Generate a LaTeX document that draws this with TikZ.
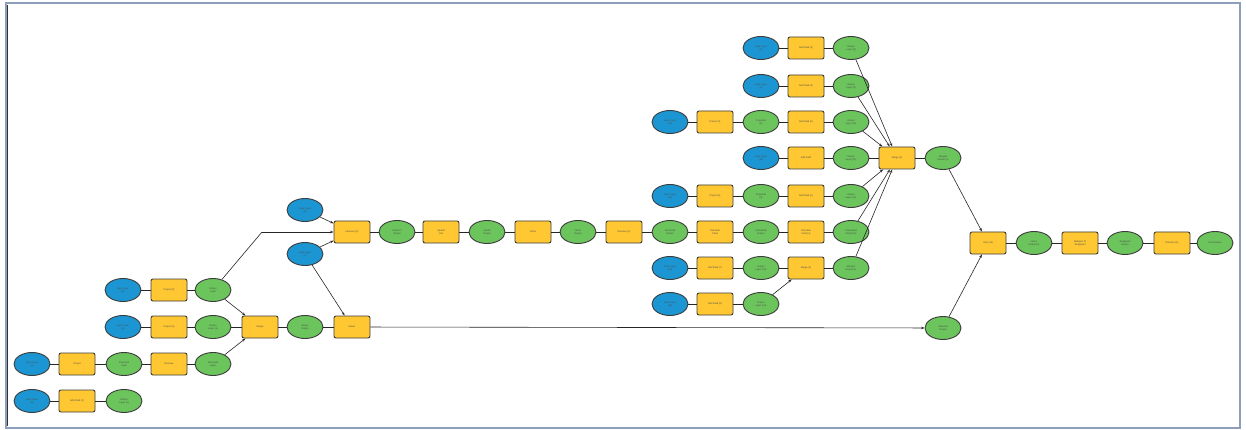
\documentclass[tikz,border=0pt]{standalone}
\usepackage{fontspec}
\setmainfont{Liberation Sans}
\usetikzlibrary{arrows.meta,shapes.geometric}
\definecolor{mbblue}{RGB}{28,150,210}
\definecolor{mbgreen}{RGB}{108,196,92}
\definecolor{mbyellow}{RGB}{255,200,50}
\definecolor{frameblue}{RGB}{140,158,186}
\definecolor{edgegray}{RGB}{60,60,60}
\tikzset{
  x=1pt, y=-1pt,
  base/.style={draw=edgegray, line width=0.9pt, minimum width=36pt, minimum height=23pt, inner sep=0pt,
    align=center, font=\fontsize{2.4pt}{2.9pt}\selectfont, text=black!70},
  inp/.style={base, ellipse, fill=mbblue},
  outp/.style={base, ellipse, fill=mbgreen},
  tool/.style={base, rectangle, rounded corners=2pt, fill=mbyellow, minimum height=22pt},
  link/.style={draw=black!85, line width=0.6pt},
  flow/.style={link, -{Stealth[length=3.5pt,width=2.5pt]}},
}
\begin{document}
\begin{tikzpicture}
\useasboundingbox (0,0) rectangle (1246,430);
\fill[white] (0,0) rectangle (1246,430);
\draw[frameblue, line width=2pt] (6,3) rectangle (1240,428);
\draw[black!80, line width=0.8pt] (7.5,5) -- (7.5,426);

% ---- left block ----
\node[inp]  (bA) at (123,290) {Input Layer\\(2)};
\node[tool] (tA) at (169,290) {Project (2)};
\node[outp] (gA) at (213,290) {Output\\Layer};
\node[inp]  (bB) at (123,327) {Input Layer\\(3)};
\node[tool] (tB) at (169,327) {Project (3)};
\node[outp] (gB) at (213,327) {Output\\Layer (3)};
\node[tool] (tM1) at (260,327) {Merge};
\node[outp] (gM1) at (305,327) {Merge\\Output};
\node[tool] (tS) at (352,327) {Select};
\node[inp]  (bC) at (32,364) {Input Layer\\(4)};
\node[tool] (tC1) at (77,364) {Project};
\node[outp] (gC1) at (124,364) {Projected\\Layer};
\node[tool] (tC2) at (169,364) {Dissolve};
\node[outp] (gC2) at (213,364) {Dissolved\\Layer};
\node[inp]  (bD) at (32,401) {Input Layer\\(5)};
\node[tool] (tD) at (77,401) {Add Field (2)};
\node[outp] (gD) at (124,401) {Output\\Layer (5)};

\draw[link] (bA) -- (tA); \draw[link] (tA) -- (gA);
\draw[link] (bB) -- (tB); \draw[link] (tB) -- (gB); \draw[link] (gB) -- (tM1);
\draw[link] (tM1) -- (gM1); \draw[link] (gM1) -- (tS);
\draw[link] (bC) -- (tC1); \draw[link] (tC1) -- (gC1); \draw[link] (gC1) -- (tC2); \draw[link] (tC2) -- (gC2);
\draw[link] (bD) -- (tD); \draw[link] (tD) -- (gD);
\draw[flow] (gA) -- (tM1);
\draw[flow] (gC2) -- (tM1);

% ---- middle chain ----
\node[inp]  (b1) at (305,210) {Input Layer\\(6)};
\node[inp]  (b2) at (305,254) {Input Layer\\(7)};
\node[tool] (t1) at (352,232) {Intersect (2)};
\node[outp] (g1) at (397,232) {Intersect\\Output};
\node[tool] (t2) at (441,232) {Spatial\\Join};
\node[outp] (g2) at (487,232) {Joined\\Output};
\node[tool] (t3) at (533,232) {Union};
\node[outp] (g3) at (578,232) {Union\\Output};
\node[tool] (t4) at (624,232) {Dissolve (2)};
\node[outp] (g4) at (670,232) {Dissolved\\Output};
\coordinate (bend) at (262,232);

\draw[link] (gA) -- (bend);
\draw[flow] (bend) -- (t1);
\draw[flow] (b1) -- (t1);
\draw[flow] (b2) -- (t1);
\draw[flow] (b2) -- (tS);
\draw[link] (t1) -- (g1); \draw[link] (g1) -- (t2); \draw[link] (t2) -- (g2);
\draw[link] (g2) -- (t3); \draw[link] (t3) -- (g3); \draw[link] (g3) -- (t4); \draw[link] (t4) -- (g4);

% ---- right cluster ----
\node[inp]  (r1b) at (761,48) {Input Layer\\(8)};
\node[tool] (r1t) at (806,48) {Add Field (3)};
\node[outp] (r1g) at (851,48) {Output\\Layer (8)};
\node[inp]  (r2b) at (761,86) {Input Layer\\(9)};
\node[tool] (r2t) at (806,86) {Add Field (4)};
\node[outp] (r2g) at (851,86) {Output\\Layer (9)};
\node[inp]  (r3b) at (670,122) {Input Layer\\(10)};
\node[tool] (r3t1) at (715,122) {Project (4)};
\node[outp] (r3g1) at (761,122) {Projected\\(2)};
\node[tool] (r3t2) at (806,122) {Add Field (5)};
\node[outp] (r3g2) at (851,122) {Output\\Layer (10)};
\node[inp]  (r4b) at (761,158) {Input Layer\\(11)};
\node[tool] (r4t) at (806,158) {Add Field};
\node[outp] (r4g) at (851,158) {Output\\Layer (11)};
\node[inp]  (r5b) at (670,196) {Input Layer\\(12)};
\node[tool] (r5t1) at (715,196) {Project (5)};
\node[outp] (r5g1) at (761,196) {Projected\\(3)};
\node[tool] (r5t2) at (806,196) {Add Field (6)};
\node[outp] (r5g2) at (851,196) {Output\\Layer (12)};
\node[tool] (r6t1) at (715,232) {Calculate\\Field};
\node[outp] (r6g1) at (761,232) {Calculated\\Output};
\node[tool] (r6t2) at (806,232) {Calculate\\Field (2)};
\node[outp] (r6g2) at (851,232) {Calculated\\Output (2)};
\node[inp]  (r7b) at (670,268) {Input Layer\\(13)};
\node[tool] (r7t1) at (715,268) {Add Field (7)};
\node[outp] (r7g1) at (761,268) {Output\\Layer (13)};
\node[tool] (r7t2) at (806,268) {Merge (2)};
\node[outp] (r7g2) at (851,268) {Merged\\Output (2)};
\node[inp]  (r8b) at (670,304) {Input Layer\\(14)};
\node[tool] (r8t) at (715,304) {Add Field (8)};
\node[outp] (r8g) at (761,304) {Output\\Layer (14)};

\draw[link] (r1b) -- (r1t); \draw[link] (r1t) -- (r1g);
\draw[link] (r2b) -- (r2t); \draw[link] (r2t) -- (r2g);
\draw[link] (r3b) -- (r3t1); \draw[link] (r3t1) -- (r3g1); \draw[link] (r3g1) -- (r3t2); \draw[link] (r3t2) -- (r3g2);
\draw[link] (r4b) -- (r4t); \draw[link] (r4t) -- (r4g);
\draw[link] (r5b) -- (r5t1); \draw[link] (r5t1) -- (r5g1); \draw[link] (r5g1) -- (r5t2); \draw[link] (r5t2) -- (r5g2);
\draw[link] (g4) -- (r6t1); \draw[link] (r6t1) -- (r6g1); \draw[link] (r6g1) -- (r6t2); \draw[link] (r6t2) -- (r6g2);
\draw[link] (r7b) -- (r7t1); \draw[link] (r7t1) -- (r7g1); \draw[link] (r7g1) -- (r7t2); \draw[link] (r7t2) -- (r7g2);
\draw[link] (r8b) -- (r8t); \draw[link] (r8t) -- (r8g);
\draw[flow] (r8g) -- (r7t2);

\node[tool] (tR) at (897,158) {Merge (3)};
\node[outp] (gR) at (943,158) {Merged\\Output (3)};
\draw[flow] (r1g) -- (tR);
\draw[flow] (r2g) -- (tR);
\draw[flow] (r3g2) -- (tR);
\draw[link] (r4g) -- (tR);
\draw[flow] (r5g2) -- (tR);
\draw[flow] (r6g2) -- (tR);
\draw[flow] (r7g2) -- (tR);
\draw[link] (tR) -- (gR);

% ---- final chain ----
\node[outp] (gL) at (943,328) {Selected\\Output};
\node[tool] (tF1) at (988,243) {Union (2)};
\node[outp] (gF1) at (1034,243) {Union\\Output (2)};
\node[tool] (tF2) at (1080,243) {Multipart To\\Singlepart};
\node[outp] (gF2) at (1125,243) {Singlepart\\Output};
\node[tool] (tF3) at (1172,243) {Dissolve (3)};
\node[outp] (gF3) at (1215,243) {Final Output};

\draw[flow] (tS) -- (gL);
\draw[flow] (gL) -- (tF1);
\draw[flow] (gR) -- (tF1);
\draw[link] (tF1) -- (gF1); \draw[link] (gF1) -- (tF2); \draw[link] (tF2) -- (gF2);
\draw[link] (gF2) -- (tF3); \draw[link] (tF3) -- (gF3);
\end{tikzpicture}
\end{document}
